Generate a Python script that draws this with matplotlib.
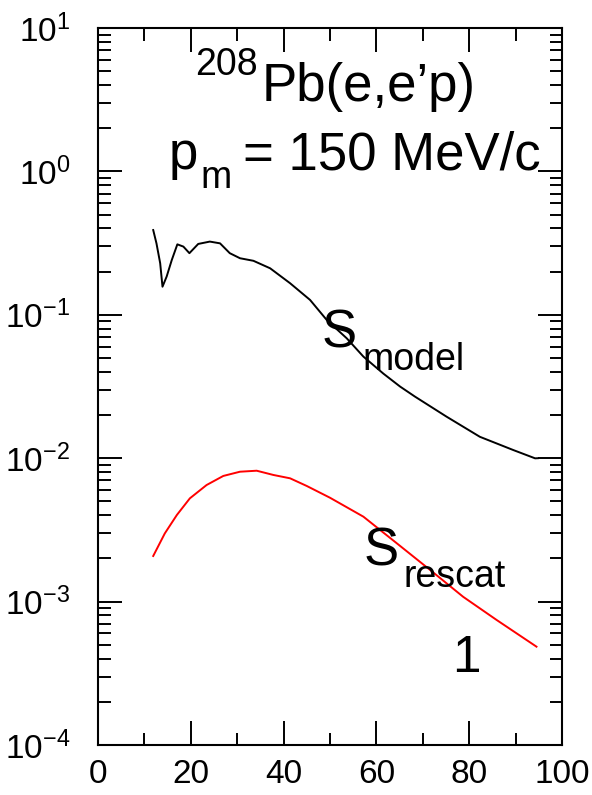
import numpy as np
import matplotlib
matplotlib.use("Agg")
import matplotlib.pyplot as plt
from matplotlib.ticker import MultipleLocator, LogLocator, NullFormatter

plt.rcParams['font.family'] = ['Liberation Sans', 'DejaVu Sans']
plt.rcParams['mathtext.fontset'] = 'custom'
plt.rcParams['mathtext.rm'] = 'Liberation Sans'
plt.rcParams['mathtext.it'] = 'Liberation Sans:italic'

# S_model curve (black)
x_model = [11.9, 12.6, 13.4, 13.9, 14.8, 15.9, 17.1, 18.4, 19.7, 21.6, 24.1, 26.3,
           28.4, 30.6, 33.5, 37.1, 41.4, 45.7, 49.3, 53.6, 57.2, 61.5, 65.1, 68.3,
           75.1, 82.3, 89.5, 94.2, 94.8]
s_model = [0.390, 0.315, 0.229, 0.157, 0.185, 0.241, 0.310, 0.299, 0.269, 0.312,
           0.324, 0.315, 0.269, 0.248, 0.238, 0.211, 0.166, 0.127, 0.092, 0.0686,
           0.0511, 0.0389, 0.0316, 0.0269, 0.0195, 0.0141, 0.0114, 0.00998, 0.0100]

# S_rescat curve (red)
x_rescat = [11.9, 14.4, 17.0, 19.8, 23.4, 27.0, 30.6, 34.2, 37.8, 41.4, 45.0,
            50.0, 57.2, 64.4, 71.6, 78.7, 85.9, 94.5]
s_rescat = [0.00208, 0.00299, 0.00402, 0.00525, 0.00650, 0.00752, 0.00805,
            0.00818, 0.00764, 0.00724, 0.00640, 0.00530, 0.00391, 0.00255,
            0.00166, 0.00108, 0.000745, 0.000485]

W, H = 592, 795
fig = plt.figure(figsize=(W / 100, H / 100), dpi=100)
ax = fig.add_axes([98 / W, 1 - 745 / H, (562 - 98) / W, (745 - 28) / H])

ax.plot(x_model, s_model, color='black', lw=1.4)
ax.plot(x_rescat, s_rescat, color='red', lw=1.4)

ax.set_yscale('log')
ax.set_xlim(0, 100)
ax.set_ylim(1e-4, 1e1)
ax.xaxis.set_major_locator(MultipleLocator(20))
ax.xaxis.set_minor_locator(MultipleLocator(10))
ax.yaxis.set_major_locator(LogLocator(base=10, numticks=10))
ax.yaxis.set_minor_locator(LogLocator(base=10, subs=np.arange(2, 10), numticks=20))
ax.yaxis.set_minor_formatter(NullFormatter())

for s in ax.spines.values():
    s.set_linewidth(1.5)
ax.tick_params(which='both', direction='in', top=True, right=True, width=1.4,
               labelsize=24)
ax.tick_params(which='major', length=17)
ax.tick_params(which='minor', length=9)
ax.tick_params(axis='y', pad=20)
ax.tick_params(axis='x', pad=10)


def label(px, py, s, size):
    fig.text(px / W, 1 - py / H, s, fontsize=size, va='baseline', ha='left')


label(195, 75, '208', 27)
label(262, 101, 'Pb(e,e\u2019p)', 38)
label(169, 169, 'p', 38)
label(200, 188, 'm', 27)
label(243, 169, '= 150 MeV/c', 38)
label(322, 348, 'S', 38)
label(362, 370, 'model', 27)
label(364, 565, 'S', 38)
label(403, 587, 'rescat', 27)
label(452, 672, '1', 37)

fig.savefig('out.png', dpi=100)
